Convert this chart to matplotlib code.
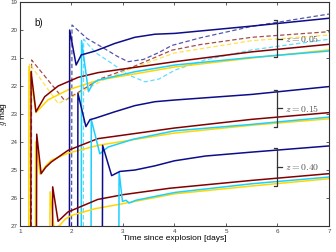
import matplotlib
matplotlib.use("Agg")
import matplotlib.pyplot as plt

plt.rcParams['font.family'] = ['Liberation Sans', 'DejaVu Sans']
plt.rcParams['mathtext.fontset'] = 'cm'

# ---- data (time [days], g mag) ----
# z = 0.05 solid
navy05_t = [1.96, 1.965, 2.09, 2.19, 2.46, 2.84, 3.23, 3.62, 4.01, 5.5, 7.0]
navy05_m = [27.5, 20.0, 21.25, 20.89, 20.75, 20.48, 20.26, 20.15, 20.12, 19.86, 19.58]
maroon05_t = [1.21, 1.215, 1.31, 1.48, 1.74, 2.13, 2.52, 4.01, 5.5, 7.0]
maroon05_m = [27.5, 21.49, 22.92, 22.38, 22.0, 21.69, 21.52, 21.13, 20.78, 20.51]
yellow05_t = [1.17, 1.175, 1.31, 1.54, 1.93, 2.52, 4.01, 5.5, 7.0]
yellow05_m = [27.5, 21.3, 22.95, 22.5, 22.14, 21.79, 21.32, 21.0, 20.71]
cyan05_t = [2.19, 2.195, 2.33, 2.42, 2.52, 3.23, 4.01, 5.5, 7.0]
cyan05_m = [27.5, 20.38, 22.2, 21.9, 21.79, 21.49, 21.25, 20.98, 20.75]

# z = 0.05 dashed
navy05d_t = [2.0, 2.01, 2.3, 2.6, 2.9, 3.1, 3.4, 3.7, 3.95, 4.5, 5.5, 7.0]
navy05d_m = [27.5, 19.82, 20.3, 20.62, 20.95, 21.13, 21.05, 20.8, 20.55, 20.28, 19.87, 19.43]
maroon05d_t = [1.22, 1.225, 1.87, 2.26, 2.55, 3.2, 3.95, 4.5, 5.5, 7.0]
maroon05d_m = [27.5, 21.07, 22.52, 22.08, 21.75, 21.31, 20.72, 20.52, 20.26, 20.06]
yellow05d_t = [1.18, 1.185, 1.74, 1.95, 2.3, 2.6, 3.2, 4.0, 5.5, 7.0]
yellow05d_m = [27.5, 21.2, 22.62, 22.45, 22.1, 21.8, 21.35, 20.82, 20.38, 20.18]
cyan05d_t = [2.23, 2.235, 2.46, 2.75, 3.1, 3.43, 3.7, 4.01, 4.59, 5.5, 7.0]
cyan05d_m = [27.5, 20.33, 20.8, 21.15, 21.6, 21.85, 21.75, 21.43, 21.07, 20.71, 20.33]

# z = 0.15 solid
navy15_t = [2.12, 2.125, 2.28, 2.36, 2.46, 2.84, 3.23, 3.62, 4.0, 5.5, 7.0]
navy15_m = [27.5, 22.26, 23.45, 23.2, 23.15, 22.92, 22.7, 22.56, 22.5, 22.3, 22.02]
maroon15_t = [1.32, 1.325, 1.41, 1.5, 1.61, 1.93, 2.51, 4.0, 5.5, 7.0]
maroon15_m = [27.5, 23.72, 25.13, 24.9, 24.71, 24.3, 23.88, 23.5, 23.19, 22.95]
yellow15_t = [1.3, 1.305, 1.39, 1.5, 1.61, 1.93, 2.51, 4.0, 5.5, 7.0]
yellow15_m = [27.5, 23.99, 25.15, 24.85, 24.65, 24.4, 24.12, 23.68, 23.4, 23.17]
cyan15_t = [2.38, 2.385, 2.55, 2.71, 3.2, 4.0, 5.5, 7.0]
cyan15_m = [27.5, 23.2, 24.42, 24.18, 23.9, 23.6, 23.37, 23.11]

# z = 0.40 solid
navy40_t = [2.6, 2.605, 2.78, 2.94, 3.23, 3.62, 4.0, 4.6, 5.5, 7.0]
navy40_m = [27.5, 24.12, 25.2, 25.05, 25.0, 24.85, 24.67, 24.5, 24.36, 24.14]
maroon40_t = [1.63, 1.635, 1.74, 1.93, 2.51, 3.0, 3.91, 5.5, 7.0]
maroon40_m = [27.5, 25.6, 26.83, 26.5, 26.05, 25.88, 25.65, 25.37, 25.13]
yellow40_t = [1.58, 1.585, 1.66, 1.76, 1.88, 2.0, 2.46, 3.0, 4.0, 5.5, 7.0]
yellow40_m = [27.5, 25.78, 27.05, 27.0, 26.75, 26.62, 26.38, 26.2, 25.85, 25.57, 25.31]
cyan40_t = [2.92, 2.925, 2.99, 3.06, 3.12, 3.25, 3.6, 4.01, 5.5, 7.0]
cyan40_m = [27.5, 25.07, 26.12, 26.08, 26.18, 26.08, 25.95, 25.8, 25.49, 25.25]

groups = ["$z = 0.05$", "$z = 0.15$", "$z = 0.40$"]
bracket_top = [19.64, 22.14, 24.21]
bracket_bot = [20.98, 23.46, 25.57]
bracket_t = 6.0

xticks = [1, 2, 3, 4, 5, 6, 7]
yticks = [19, 20, 21, 22, 23, 24, 25, 26, 27]

NAVY = '#0d0d8a'
MAROON = '#820000'
YELLOW = '#ffd700'
CYAN = '#1cd0ff'

fig = plt.figure(figsize=(3.36, 2.52), dpi=100)
ax = fig.add_axes([0.0595, 0.103, 0.9195, 0.889])

lw = 1.1
# dashed (drawn first)
for t, m, c in [(navy05d_t, navy05d_m, NAVY), (maroon05d_t, maroon05d_m, MAROON),
                (yellow05d_t, yellow05d_m, YELLOW), (cyan05d_t, cyan05d_m, CYAN)]:
    ax.plot(t, m, color=c, lw=0.9, ls=(0, (3.5, 2)), alpha=0.7)

solid = [
    (yellow05_t, yellow05_m, YELLOW), (maroon05_t, maroon05_m, MAROON),
    (cyan05_t, cyan05_m, CYAN), (navy05_t, navy05_m, NAVY),
    (yellow15_t, yellow15_m, YELLOW), (maroon15_t, maroon15_m, MAROON),
    (cyan15_t, cyan15_m, CYAN), (navy15_t, navy15_m, NAVY),
    (yellow40_t, yellow40_m, YELLOW), (maroon40_t, maroon40_m, MAROON),
    (cyan40_t, cyan40_m, CYAN), (navy40_t, navy40_m, NAVY),
]
for t, m, c in solid:
    ax.plot(t, m, color=c, lw=lw, solid_joinstyle='round')

# brackets
for lab, top, bot in zip(groups, bracket_top, bracket_bot):
    mid = 0.5 * (top + bot)
    ax.plot([bracket_t - 0.07, bracket_t, bracket_t, bracket_t - 0.07],
            [top, top, bot, bot], color='#333333', lw=0.9)
    ax.plot([bracket_t, bracket_t + 0.08], [mid, mid], color='#333333', lw=0.9)
    ax.text(bracket_t + 0.14, mid, lab, fontsize=7, color='#555555',
            va='center', ha='left')

ax.text(1.28, 19.75, "b)", fontsize=7, color='#111111', va='center')

ax.set_xlim(1, 7)
ax.set_ylim(27, 19)
ax.set_xticks(xticks)
ax.set_yticks(yticks)
ax.tick_params(direction='in', top=True, right=True, length=2.5, width=0.6,
               labelsize=4.5, labelcolor='#444444', color='#444444', pad=2)
for s in ax.spines.values():
    s.set_color('#333333')
    s.set_linewidth(0.8)
ax.set_xlabel("Time since explosion [days]", fontsize=6, labelpad=1)
ax.set_ylabel("$g$ mag", fontsize=6, labelpad=1)

fig.savefig("out.png", dpi=100)
